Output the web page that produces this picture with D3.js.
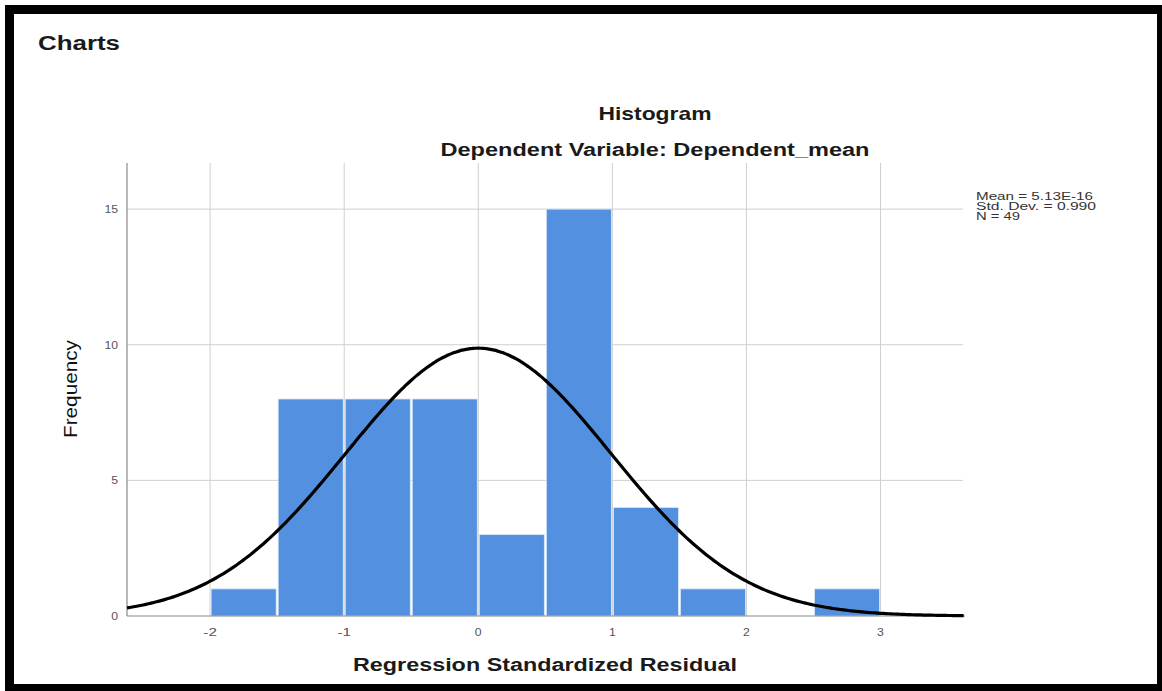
<!DOCTYPE html>
<html>
<head>
<meta charset="utf-8">
<script src="https://cdn.jsdelivr.net/npm/d3@7"></script>
<style>
  html, body { margin: 0; padding: 0; background: #fff; }
  svg text { font-family: Arial, "Liberation Sans", sans-serif; }
</style>
</head>
<body>
<svg id="chart" width="1162" height="691"></svg>
<script>
// Histogram of regression standardized residuals (bin width 0.5)
const binStarts   = [-2, -1.5, -1, -0.5, 0, 0.5, 1, 1.5, 2, 2.5];
const frequencies = [ 1,    8,  8,    8, 3,  15, 4,   1, 0,   1];
const binWidth = 0.5;

const xTicks = [-2, -1, 0, 1, 2, 3];
const yTicks = [0, 5, 10, 15];

const mean = 5.13e-16;
const stdDev = 0.990;
const n = 49;
const statLabels = ["Mean = 5.13E-16", "Std. Dev. = 0.990", "N = 49"];

const svg = d3.select("#chart");
const W = 1162, H = 691;

// Framed page
svg.append("rect").attr("x", 5).attr("y", 5).attr("width", W - 5).attr("height", H - 5).attr("fill", "#000");
svg.append("rect").attr("x", 14).attr("y", 14).attr("width", 1157 - 14).attr("height", 684 - 14).attr("fill", "#fff");

// Helper: text with a fixed drawn width
function label(x, y, str, opts) {
  const t = svg.append("text")
    .attr("x", x).attr("y", y)
    .attr("font-size", opts.size)
    .attr("font-weight", opts.weight || "normal")
    .attr("fill", opts.fill || "#111")
    .attr("text-anchor", opts.anchor || "start")
    .text(str);
  if (opts.width) t.attr("textLength", opts.width).attr("lengthAdjust", "spacingAndGlyphs");
  if (opts.rotate) t.attr("transform", `rotate(${opts.rotate},${x},${y})`);
  return t;
}

label(38, 50, "Charts", { size: 20, weight: "bold", width: 82, fill: "#1a1a1a" });
label(655, 120, "Histogram", { size: 19, weight: "bold", width: 113, anchor: "middle", fill: "#1a1a1a" });
label(655, 156, "Dependent Variable: Dependent_mean", { size: 18, weight: "bold", width: 429, anchor: "middle", fill: "#1a1a1a" });

// Scales
const x = d3.scaleLinear().domain([-2.62, 3.63]).range([127, 965]);
const y = d3.scaleLinear().domain([0, 16.7]).range([616, 163]);

const plotTop = y(16.7), plotBottom = y(0), plotLeft = x(-2.62), plotRight = x(3.63);

// Grid
const grid = svg.append("g");
grid.selectAll("line.v").data(xTicks).join("line")
  .attr("x1", d => x(d)).attr("x2", d => x(d))
  .attr("y1", plotTop).attr("y2", plotBottom)
  .attr("stroke", "#cfcfcf").attr("stroke-width", 1);
grid.selectAll("line.h").data(yTicks.filter(d => d > 0)).join("line")
  .attr("x1", plotLeft).attr("x2", plotRight - 2)
  .attr("y1", d => y(d)).attr("y2", d => y(d))
  .attr("stroke", "#cfcfcf").attr("stroke-width", 1);

// Bars
svg.append("g").selectAll("rect").data(binStarts.map((s, i) => ({ s, f: frequencies[i] })).filter(d => d.f > 0))
  .join("rect")
  .attr("x", d => x(d.s) + 1)
  .attr("width", d => x(d.s + binWidth) - x(d.s) - 2)
  .attr("y", d => y(d.f))
  .attr("height", d => y(0) - y(d.f))
  .attr("fill", "#5390e0")
  .attr("stroke", "#d8e8fa")
  .attr("stroke-width", 0.8);

// Axes lines
svg.append("line").attr("x1", plotLeft).attr("x2", plotLeft).attr("y1", plotTop).attr("y2", plotBottom)
  .attr("stroke", "#8a8a8a").attr("stroke-width", 1.2);
svg.append("line").attr("x1", plotLeft).attr("x2", plotRight).attr("y1", plotBottom).attr("y2", plotBottom)
  .attr("stroke", "#8a8a8a").attr("stroke-width", 1.2);

// Normal curve scaled to counts
const peakScale = n * binWidth;
const normal = v => peakScale * Math.exp(-0.5 * Math.pow((v - mean) / stdDev, 2)) / (stdDev * Math.sqrt(2 * Math.PI));
const curvePts = d3.range(-2.62, 3.6301, 0.02).map(v => [v, normal(v)]);
svg.append("path")
  .datum(curvePts)
  .attr("fill", "none")
  .attr("stroke", "#000")
  .attr("stroke-width", 3.2)
  .attr("d", d3.line().x(d => x(d[0])).y(d => y(d[1])).curve(d3.curveBasis));

// Tick labels
yTicks.forEach(t => {
  label(118, y(t) + 4, String(t), { size: 10, anchor: "end", fill: "#555", width: String(t).length * 6.8 });
});
xTicks.forEach(t => {
  label(x(t), 636, String(t), { size: 10, anchor: "middle", fill: "#555", width: String(t).length * 6.8 });
});

// Axis titles
label(545, 671, "Regression Standardized Residual", { size: 18, weight: "bold", width: 384, anchor: "middle", fill: "#1a1a1a" });
label(77, 389, "Frequency", { size: 19, weight: "normal", width: 98, anchor: "middle", fill: "#111", rotate: -90 });

// Summary statistics
const statWidths = [117, 120, 44];
statLabels.forEach((s, i) => {
  label(976, 200 + i * 10, s, { size: 10, fill: "#333", width: statWidths[i] });
});
</script>
</body>
</html>
